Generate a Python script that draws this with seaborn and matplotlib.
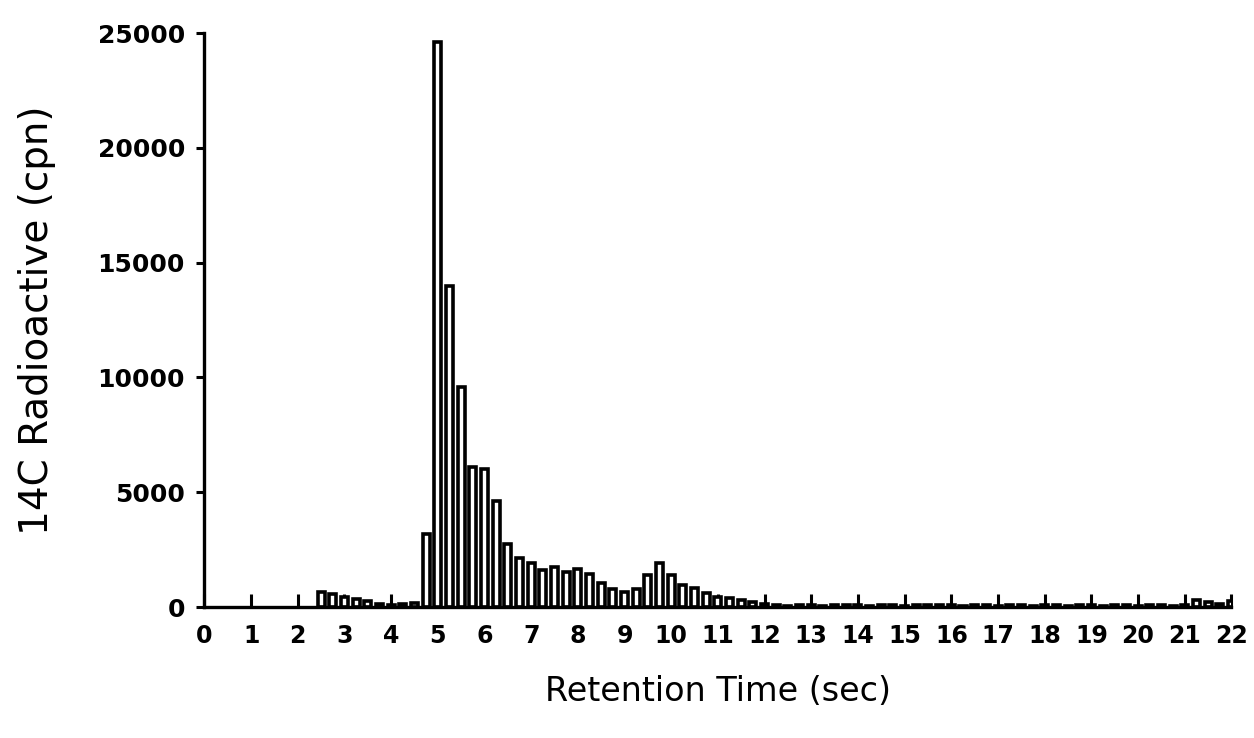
import matplotlib
matplotlib.use("Agg")
import matplotlib.pyplot as plt
import seaborn as sns
import pandas as pd

# Retention time (sec) of each collected fraction and its 14C count (cpn)
times = [2.5, 2.75, 3.0, 3.25, 3.5, 3.75, 4.0, 4.25, 4.5,
         4.75, 5.0, 5.25, 5.5, 5.75, 6.0, 6.25, 6.5, 6.75, 7.0,
         7.25, 7.5, 7.75, 8.0, 8.25, 8.5, 8.75, 9.0, 9.25, 9.5,
         9.75, 10.0, 10.25, 10.5, 10.75, 11.0, 11.25, 11.5, 11.75, 12.0,
         12.25, 12.5, 12.75, 13.0, 13.25, 13.5, 13.75, 14.0, 14.25, 14.5,
         14.75, 15.0, 15.25, 15.5, 15.75, 16.0, 16.25, 16.5, 16.75, 17.0,
         17.25, 17.5, 17.75, 18.0, 18.25, 18.5, 18.75, 19.0, 19.25, 19.5,
         19.75, 20.0, 20.25, 20.5, 20.75, 21.0, 21.25, 21.5, 21.75, 22.0]
counts = [650, 550, 450, 350, 250, 150, 100, 120, 180,
          3200, 24600, 14000, 9600, 6100, 6000, 4600, 2750, 2130, 1900,
          1600, 1740, 1520, 1650, 1430, 1040, 780, 650, 780, 1390,
          1900, 1390, 960, 830, 610, 440, 390, 300, 200, 120,
          80, 60, 70, 90, 60, 80, 70, 90, 60, 70,
          80, 60, 70, 90, 80, 70, 60, 80, 90, 60,
          70, 80, 60, 90, 70, 60, 80, 70, 60, 80,
          70, 60, 80, 70, 60, 80, 300, 200, 150, 250]

x_ticks = list(range(0, 23))
y_ticks = [0, 5000, 10000, 15000, 20000, 25000]

df = pd.DataFrame({"time": times, "count": counts})

sns.set_theme(style="ticks")
plt.rcParams["font.family"] = ["DejaVu Sans"]

fig = plt.figure(figsize=(12.54, 7.38), dpi=100)
ax = fig.add_axes([0.163, 0.1775, 0.819, 0.7775])

sns.barplot(data=df, x="time", y="count", native_scale=True, width=0.6,
            color="white", edgecolor="black", linewidth=2.6, ax=ax,
            saturation=1, errorbar=None)

ax.set_xlim(0, 22)
ax.set_ylim(0, 25000)
ax.set_xticks(x_ticks)
ax.set_xticklabels([str(t) for t in x_ticks])
ax.set_yticks(y_ticks)
ax.set_yticklabels([str(t) for t in y_ticks])

for s in ["top", "right"]:
    ax.spines[s].set_visible(False)
for s in ["left", "bottom"]:
    ax.spines[s].set_linewidth(2.4)
    ax.spines[s].set_color("black")

ax.tick_params(axis="x", direction="in", length=9.5, width=2.2, pad=12,
               labelsize=17, colors="black")
ax.tick_params(axis="y", direction="out", length=6, width=2.2, pad=8,
               labelsize=18, colors="black")
for lab in ax.get_xticklabels() + ax.get_yticklabels():
    lab.set_fontweight("bold")

ax.set_xlabel("Retention Time (sec)", fontsize=24, labelpad=20, color="black")
ax.set_ylabel("14C Radioactive (cpn)", fontsize=28, labelpad=30, color="black")

fig.savefig("out.png", dpi=100, facecolor="white")
